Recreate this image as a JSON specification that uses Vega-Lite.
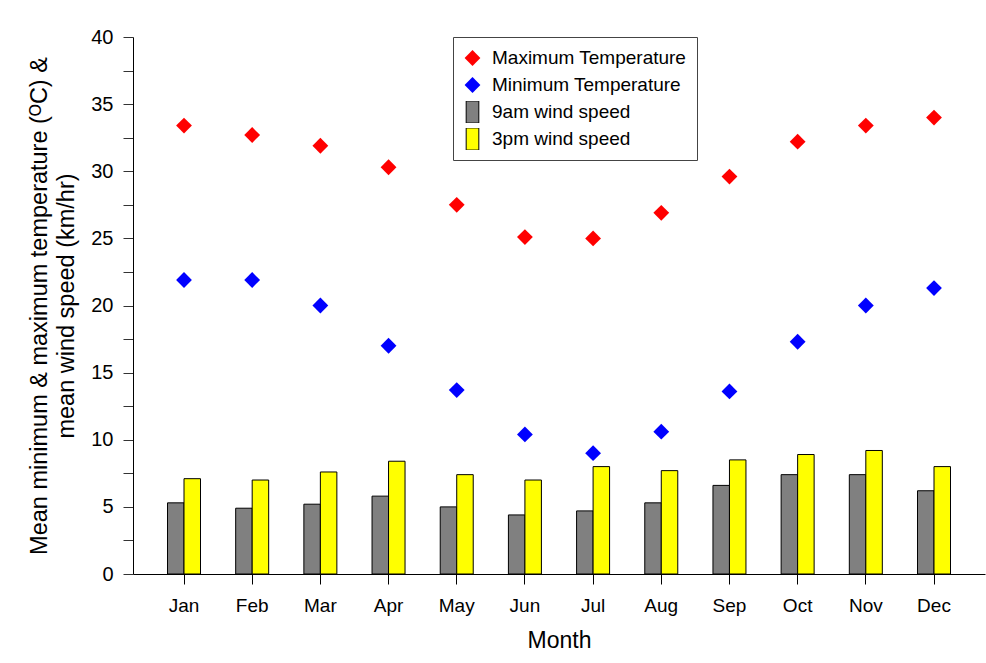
{
  "$schema": "https://vega.github.io/schema/vega-lite/v6.json",
  "width": 852,
  "height": 537,
  "autosize": "none",
  "padding": {"left": 133, "top": 37, "right": 1, "bottom": 89},
  "background": "white",
  "config": {
    "font": "Liberation Sans",
    "view": {"stroke": null},
    "axis": {"grid": false, "domainColor": "black", "tickColor": "#333333", "labelColor": "black", "titleColor": "black", "labelFont": "Liberation Sans", "titleFont": "Liberation Sans", "titleFontWeight": "normal"}
  },
  "data": {
    "values": [
      {"month": "Jan", "series": "Maximum Temperature", "value": 33.4},
      {"month": "Feb", "series": "Maximum Temperature", "value": 32.7},
      {"month": "Mar", "series": "Maximum Temperature", "value": 31.9},
      {"month": "Apr", "series": "Maximum Temperature", "value": 30.3},
      {"month": "May", "series": "Maximum Temperature", "value": 27.5},
      {"month": "Jun", "series": "Maximum Temperature", "value": 25.1},
      {"month": "Jul", "series": "Maximum Temperature", "value": 25.0},
      {"month": "Aug", "series": "Maximum Temperature", "value": 26.9},
      {"month": "Sep", "series": "Maximum Temperature", "value": 29.6},
      {"month": "Oct", "series": "Maximum Temperature", "value": 32.2},
      {"month": "Nov", "series": "Maximum Temperature", "value": 33.4},
      {"month": "Dec", "series": "Maximum Temperature", "value": 34.0},
      {"month": "Jan", "series": "Minimum Temperature", "value": 21.9},
      {"month": "Feb", "series": "Minimum Temperature", "value": 21.9},
      {"month": "Mar", "series": "Minimum Temperature", "value": 20.0},
      {"month": "Apr", "series": "Minimum Temperature", "value": 17.0},
      {"month": "May", "series": "Minimum Temperature", "value": 13.7},
      {"month": "Jun", "series": "Minimum Temperature", "value": 10.4},
      {"month": "Jul", "series": "Minimum Temperature", "value": 9.0},
      {"month": "Aug", "series": "Minimum Temperature", "value": 10.6},
      {"month": "Sep", "series": "Minimum Temperature", "value": 13.6},
      {"month": "Oct", "series": "Minimum Temperature", "value": 17.3},
      {"month": "Nov", "series": "Minimum Temperature", "value": 20.0},
      {"month": "Dec", "series": "Minimum Temperature", "value": 21.3},
      {"month": "Jan", "series": "9am wind speed", "value": 5.3},
      {"month": "Feb", "series": "9am wind speed", "value": 4.9},
      {"month": "Mar", "series": "9am wind speed", "value": 5.2},
      {"month": "Apr", "series": "9am wind speed", "value": 5.8},
      {"month": "May", "series": "9am wind speed", "value": 5.0},
      {"month": "Jun", "series": "9am wind speed", "value": 4.4},
      {"month": "Jul", "series": "9am wind speed", "value": 4.7},
      {"month": "Aug", "series": "9am wind speed", "value": 5.3},
      {"month": "Sep", "series": "9am wind speed", "value": 6.6},
      {"month": "Oct", "series": "9am wind speed", "value": 7.4},
      {"month": "Nov", "series": "9am wind speed", "value": 7.4},
      {"month": "Dec", "series": "9am wind speed", "value": 6.2},
      {"month": "Jan", "series": "3pm wind speed", "value": 7.1},
      {"month": "Feb", "series": "3pm wind speed", "value": 7.0},
      {"month": "Mar", "series": "3pm wind speed", "value": 7.6},
      {"month": "Apr", "series": "3pm wind speed", "value": 8.4},
      {"month": "May", "series": "3pm wind speed", "value": 7.4},
      {"month": "Jun", "series": "3pm wind speed", "value": 7.0},
      {"month": "Jul", "series": "3pm wind speed", "value": 8.0},
      {"month": "Aug", "series": "3pm wind speed", "value": 7.7},
      {"month": "Sep", "series": "3pm wind speed", "value": 8.5},
      {"month": "Oct", "series": "3pm wind speed", "value": 8.9},
      {"month": "Nov", "series": "3pm wind speed", "value": 9.2},
      {"month": "Dec", "series": "3pm wind speed", "value": 8.0}
    ]
  },
  "encoding": {
    "x": {
      "field": "month",
      "type": "nominal",
      "sort": ["Jan", "Feb", "Mar", "Apr", "May", "Jun", "Jul", "Aug", "Sep", "Oct", "Nov", "Dec"],
      "scale": {"paddingInner": 0.516, "paddingOuter": 0.506},
      "axis": {
        "title": "Month",
        "titleFontSize": 23,
        "titlePadding": 14,
        "labelFontSize": 19,
        "labelAngle": 0,
        "labelPadding": 12,
        "tickSize": 10,
        "tickColor": "black",
        "domainColor": "black"
      }
    },
    "y": {
      "field": "value",
      "type": "quantitative",
      "scale": {"domain": [0, 40], "nice": false, "zero": true},
      "axis": {
        "title": ["Mean minimum & maximum temperature (ᴼC) &", "mean wind speed (km/hr)"],
        "titleFontSize": 23.5,
        "titleLineHeight": 27,
        "titlePadding": 12,
        "values": [0, 2.5, 5, 7.5, 10, 12.5, 15, 17.5, 20, 22.5, 25, 27.5, 30, 32.5, 35, 37.5, 40],
        "labelExpr": "datum.value % 5 === 0 ? datum.label : ''",
        "labelFontSize": 20,
        "labelPadding": 10,
        "tickSize": 10,
        "encode": {
          "ticks": {
            "update": {
              "x2": {"signal": "datum.value % 5 === 0 ? -10 : -4"}
            }
          }
        }
      }
    },
    "color": {
      "field": "series",
      "type": "nominal",
      "scale": {
        "domain": ["Maximum Temperature", "Minimum Temperature", "9am wind speed", "3pm wind speed"],
        "range": ["#ff0000", "#0000ff", "#808080", "#ffff00"]
      },
      "legend": {
        "title": null,
        "orient": "none",
        "legendX": 320,
        "legendY": 0,
        "labelFontSize": 19,
        "labelFont": "Liberation Sans",
        "labelColor": "black",
        "labelLimit": 400,
        "symbolSize": 250,
        "symbolStrokeWidth": 1,
        "rowPadding": 5,
        "clipHeight": 22,
        "labelOffset": 10,
        "padding": 10,
        "strokeColor": "#444444",
        "fillColor": "white",
        "symbolOpacity": 1,
        "encode": {
          "symbols": {
            "update": {
              "stroke": {"signal": "indexof(['9am wind speed','3pm wind speed'], datum.value) >= 0 ? 'black' : null"},
              "strokeWidth": {"value": 1}
            }
          }
        }
      }
    }
  },
  "layer": [
    {
      "transform": [{"filter": "indexof(['9am wind speed','3pm wind speed'], datum.series) >= 0"}],
      "mark": {"type": "bar", "stroke": "black", "strokeWidth": 1, "opacity": 1},
      "encoding": {
        "xOffset": {
          "field": "series",
          "type": "nominal",
          "scale": {"domain": ["9am wind speed", "3pm wind speed"], "paddingInner": 0, "paddingOuter": 0}
        },
        "shape": {
          "field": "series",
          "type": "nominal",
          "scale": {
            "domain": ["Maximum Temperature", "Minimum Temperature", "9am wind speed", "3pm wind speed"],
            "range": ["diamond", "diamond", "M-0.8,-1.4H0.8V1.4H-0.8Z", "M-0.8,-1.4H0.8V1.4H-0.8Z"]
          }
        }
      }
    },
    {
      "transform": [{"filter": "indexof(['Maximum Temperature','Minimum Temperature'], datum.series) >= 0"}],
      "mark": {"type": "point", "filled": true, "size": 250, "opacity": 1},
      "encoding": {
        "shape": {
          "field": "series",
          "type": "nominal",
          "scale": {
            "domain": ["Maximum Temperature", "Minimum Temperature", "9am wind speed", "3pm wind speed"],
            "range": ["diamond", "diamond", "M-0.8,-1.4H0.8V1.4H-0.8Z", "M-0.8,-1.4H0.8V1.4H-0.8Z"]
          }
        }
      }
    }
  ]
}
